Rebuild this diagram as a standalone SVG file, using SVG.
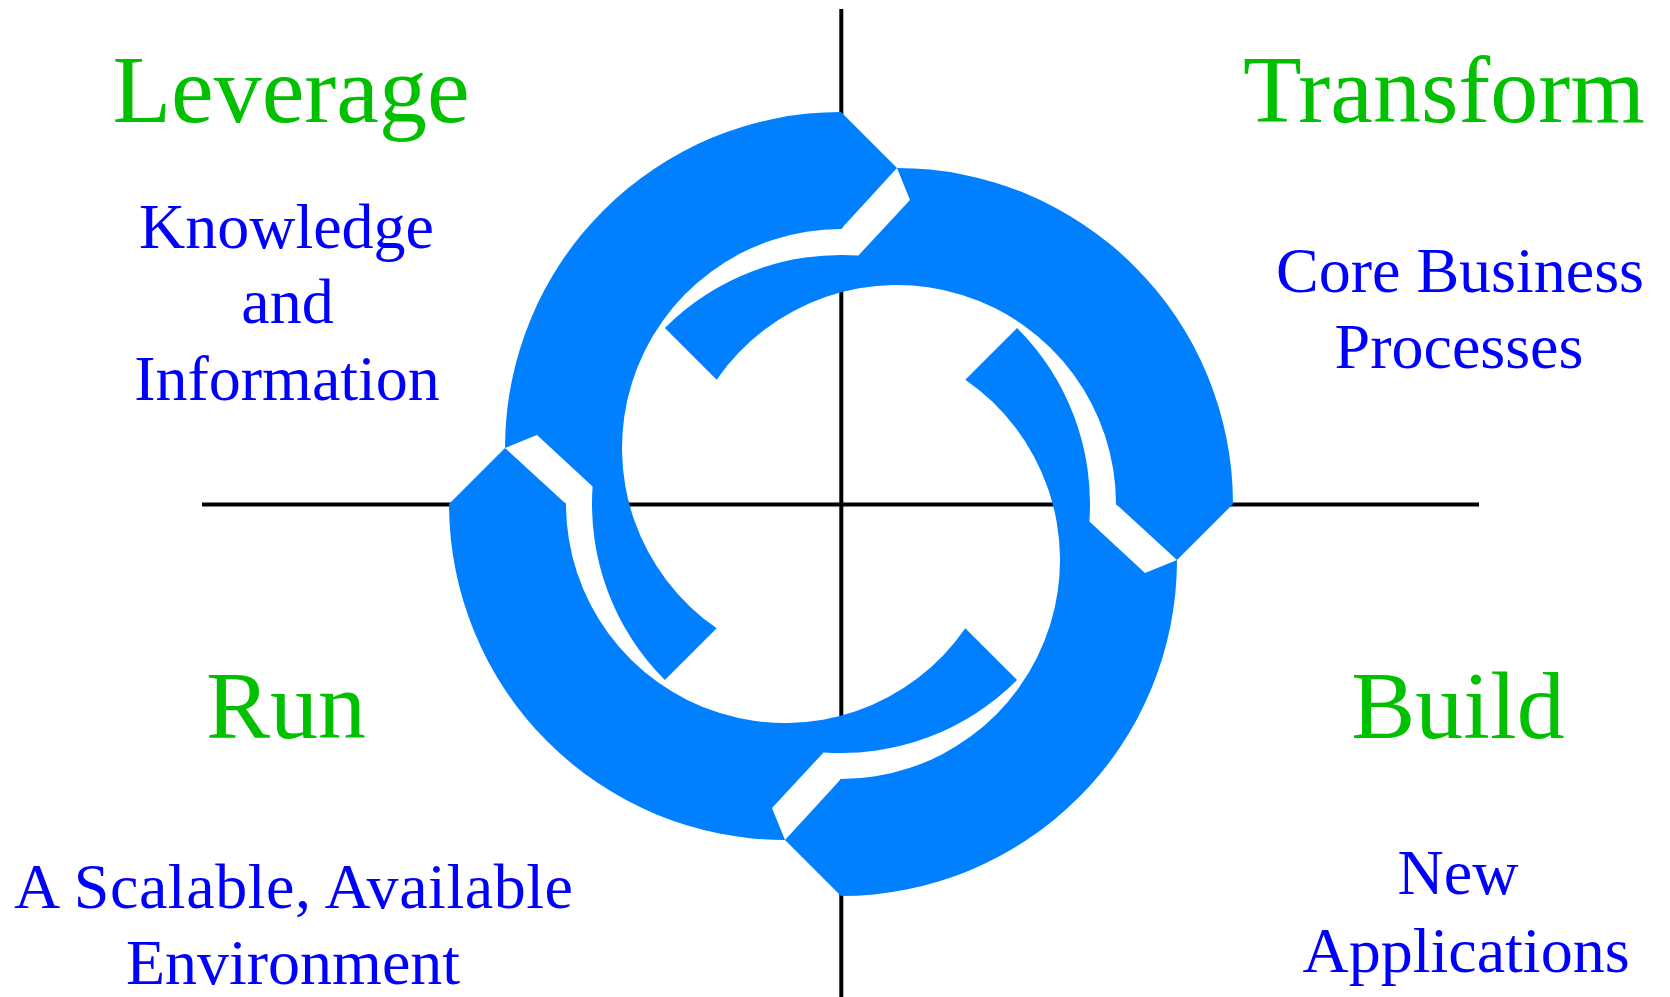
<svg xmlns="http://www.w3.org/2000/svg" xmlns:xlink="http://www.w3.org/1999/xlink" width="1670" height="997" viewBox="0 0 1670 997">
  <style>
    .axis { stroke: #000; stroke-width: 4; fill: none; }
    .arrow { fill: #0080FF; }
    .gap { fill: #FFFFFF; }
    .title { font-family: "Liberation Serif", "Times New Roman", serif; font-size: 96px; fill: #00C000; text-anchor: middle; }
    .sub { font-family: "Liberation Serif", "Times New Roman", serif; font-size: 64px; fill: #0000FF; text-anchor: middle; }
  </style>
  <defs>
    <path id="piece" d="M 841,112 L 897,168 L 841,229 A 219 219 0 0 0 716.7,628.3 L 664.9,680.1 A 249 249 0 0 1 592.6,486.6 L 537,435 L 505,448 A 336 336 0 0 1 841,112 Z"/>
    <path id="gapshape" d="M 505,448 L 537,435 L 592.6,486.6 A 249 249 0 0 0 664.9,680.1 L 660.7,684.3 A 219 219 0 0 1 566,504 Z"/>
  </defs>
  <rect width="1670" height="997" fill="#FFFFFF"/>
  <g id="connectors">
    <line class="axis" x1="841.3" y1="9" x2="841.3" y2="997"/>
    <line class="axis" x1="202" y1="504.5" x2="1479" y2="504.5"/>
  </g>
  <g id="gaps">
    <use xlink:href="#gapshape" class="gap"/>
    <use xlink:href="#gapshape" class="gap" transform="rotate(90 841 504)"/>
    <use xlink:href="#gapshape" class="gap" transform="rotate(180 841 504)"/>
    <use xlink:href="#gapshape" class="gap" transform="rotate(270 841 504)"/>
  </g>
  <g id="arrow-leverage"><use xlink:href="#piece" class="arrow"/></g>
  <g id="arrow-transform"><use xlink:href="#piece" class="arrow" transform="rotate(90 841 504)"/></g>
  <g id="arrow-build"><use xlink:href="#piece" class="arrow" transform="rotate(180 841 504)"/></g>
  <g id="arrow-run"><use xlink:href="#piece" class="arrow" transform="rotate(270 841 504)"/></g>
  <g id="label-leverage">
    <text class="title" x="291" y="122">Leverage</text>
    <text class="sub" x="286.5" y="248">Knowledge</text>
    <text class="sub" x="287.5" y="323">and</text>
    <text class="sub" x="287" y="400">Information</text>
  </g>
  <g id="label-transform">
    <text class="title" x="1444" y="122">Transform</text>
    <text class="sub" x="1460" y="292">Core Business</text>
    <text class="sub" x="1459" y="368">Processes</text>
  </g>
  <g id="label-run">
    <text class="title" x="286" y="738">Run</text>
    <text class="sub" x="14" y="908" style="text-anchor:start" textLength="559" lengthAdjust="spacing">A Scalable, Available</text>
    <text class="sub" x="293" y="984">Environment</text>
  </g>
  <g id="label-build">
    <text class="title" x="1458" y="738">Build</text>
    <text class="sub" x="1458" y="894">New</text>
    <text class="sub" x="1466" y="972">Applications</text>
  </g>
</svg>
